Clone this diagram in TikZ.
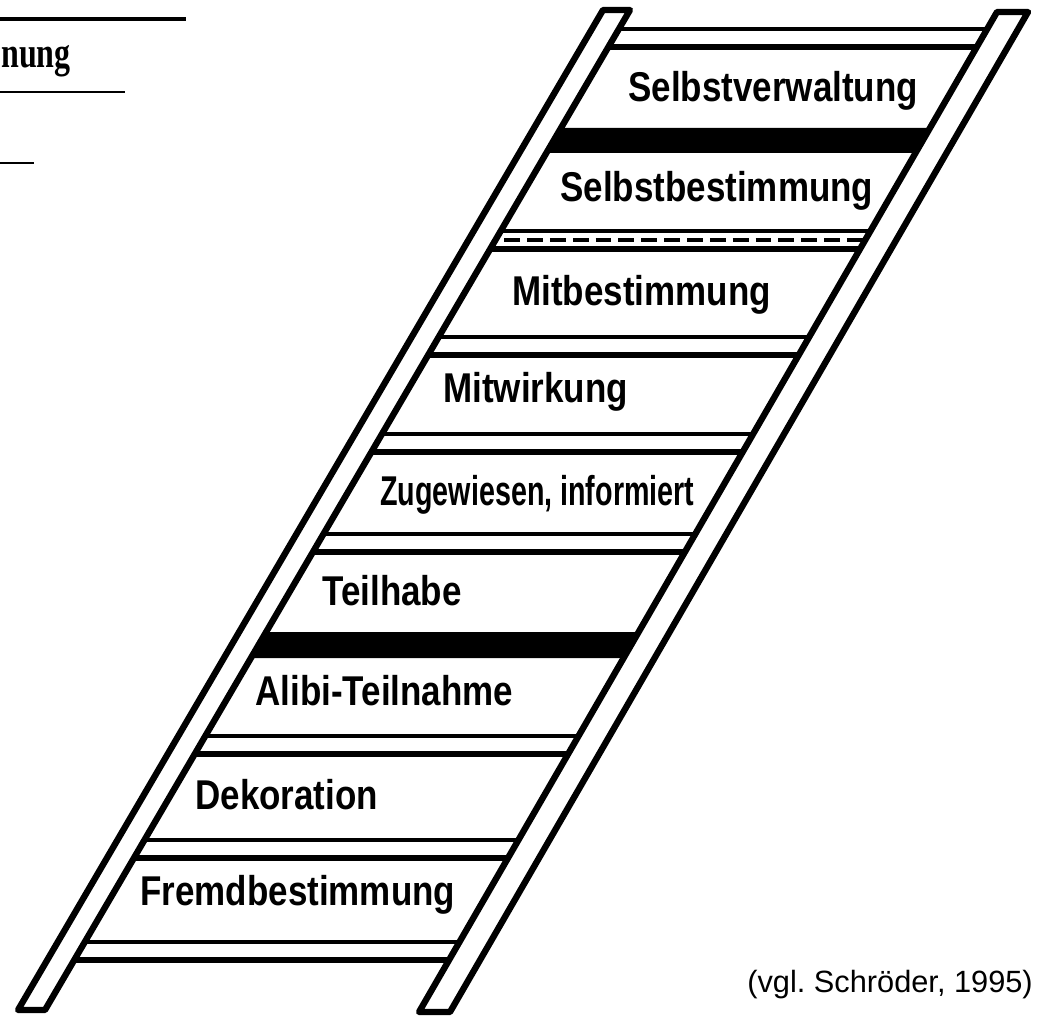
\documentclass[tikz,border=0pt]{standalone}
\usepackage{fontspec}
\usepackage{tikz}
\usetikzlibrary{calc}
\newfontfamily\rungfont{Liberation Sans}[FakeStretch=0.84]
\newfontfamily\citefont{Liberation Sans}
\newfontfamily\fragfont{Liberation Serif}
% middle lines of the two rails, as x of a given y
\newcommand{\railL}[1]{616-0.585*(#1-10)}
\newcommand{\railR}[1]{1012-0.578*(#1-12)}

\begin{document}
\begin{tikzpicture}[x=0.02cm,y=-0.02cm,
  steplabel/.style={anchor=base west,inner sep=0pt,font={\rungfont\bfseries\fontsize{23.7}{28}\selectfont}},
  rail/.style={fill=white,draw=black,line width=3.6pt,line join=round},
  thinrung/.style={line width=2.4pt},
  thickrung/.style={line width=3.6pt}]
  \useasboundingbox (0,0) rectangle (1038,1017);
  \clip (0,0) rectangle (1038,1017);

  % cut-off fragment, top left
  \draw[line width=2.3pt] (0,19) -- (186,19);
  \node[anchor=base west,inner sep=0pt,font={\fragfont\bfseries\fontsize{24.6}{28}\selectfont}] (fragment) at (1,68) {\scalebox{0.74}[1]{nung}};
  \draw[line width=1.5pt] (0,92) -- (125,92);
  \draw[line width=1.5pt] (0,163) -- (34,163);

  % ordinary rungs
  \foreach \c in {38,346,443,543,745,849,951}{
    \draw[thinrung] ({\railL{\c-9}},\c-9) -- ({\railR{\c-9}},\c-9);
    \draw[thickrung] ({\railL{\c+9}},\c+9) -- ({\railR{\c+9}},\c+9);
  }
  % black bars
  \foreach \a/\b in {128/153,632/658}{
    \fill ({\railL{\a}},\a) -- ({\railR{\a}},\a) -- ({\railR{\b}},\b) -- ({\railL{\b}},\b) -- cycle;
  }
  % dashed rung
  \draw[thinrung] ({\railL{231}},231) -- ({\railR{231}},231);
  \draw[thickrung] ({\railL{249}},249) -- ({\railR{249}},249);
  \draw[line width=2.4pt,dash pattern=on 9pt off 4pt] ({\railL{240}},240) -- ({\railR{240}},240);

  % rails
  \draw[rail] (603,10) -- (630,10) -- (45,1010) -- (18,1010) -- cycle;
  \draw[rail] (997,12) -- (1028,12) -- (450,1012) -- (419,1012) -- cycle;

  % steps
  \node[steplabel] (selbstverwaltung) at (628,102) {Selbstverwaltung};
  \node[steplabel] (selbstbestimmung) at (560,201) {Selbstbestimmung};
  \node[steplabel] (mitbestimmung) at (512,305) {Mitbestimmung};
  \node[steplabel] (mitwirkung) at (443,402) {Mitwirkung};
  \node[steplabel] (zugewiesen) at (380,505) {\scalebox{0.82}[1]{Zugewiesen, informiert}};
  \node[steplabel] (teilhabe) at (322,605) {Teilhabe};
  \node[steplabel] (alibi) at (255,705) {Alibi-Teilnahme};
  \node[steplabel] (dekoration) at (195,809) {Dekoration};
  \node[steplabel] (fremdbestimmung) at (140,905) {Fremdbestimmung};

  \node[anchor=base west,inner sep=0pt,font={\citefont\fontsize{17.5}{21}\selectfont}] (quelle) at (747,992) {(vgl.\ Schröder, 1995)};
\end{tikzpicture}
\end{document}
